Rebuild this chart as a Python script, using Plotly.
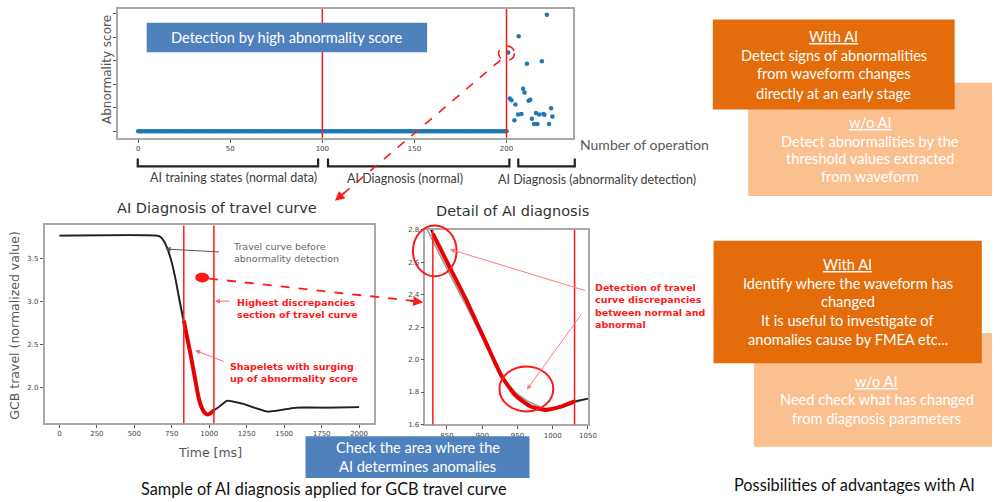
import plotly.graph_objects as go

W, H = 1001, 502
def px(x): return x / W
def py(y): return 1 - y / H

# ---------------- data ----------------
# top: abnormality score vs number of operation
normal_ops = list(range(0, 201))
normal_scores = [0.0] * len(normal_ops)
abn_ops = [200.9, 201.8, 202.7, 204.3, 204.8, 206.3, 206.6, 208.1, 209.0, 209.8,
           211.1, 212.0, 212.9, 213.8, 215.0, 216.0, 216.8, 217.7, 219.2, 220.0,
           220.6, 221.9, 223.1, 224.2, 224.9]
abn_scores = [3.35, 1.40, 1.32, 0.47, 1.14, 0.71, 4.05, 0.74, 1.81, 1.65,
              2.88, 1.30, 1.34, 0.53, 0.31, 0.78, 0.31, 0.71, 2.98, 0.74,
              0.70, 4.96, 0.31, 0.98, 0.63]
top_xticks = [0, 50, 100, 150, 200]
top_yticks = [0, 1, 2, 3, 4, 5]
phase_bounds = [100, 200]

# bottom: GCB travel curve
time_ms = [0, 650, 675, 700, 725, 750, 775, 800, 821, 830, 851, 877, 905, 928, 947,
           968, 989, 1013, 1031, 1050, 1080, 1120, 1160, 1234, 1300, 1390, 1450,
           1587, 1807, 2000]
travel_now = [3.76, 3.76, 3.745, 3.69, 3.59, 3.45, 3.26, 3.03, 2.85, 2.776, 2.593,
              2.37, 2.107, 1.894, 1.78, 1.712, 1.69, 1.712, 1.742, 1.76, 1.80, 1.85,
              1.84, 1.81, 1.77, 1.725, 1.735, 1.77, 1.77, 1.775]
travel_before = [3.76, 3.76, 3.745, 3.69, 3.58, 3.44, 3.24, 3.00, 2.81, 2.73, 2.55,
                 2.335, 2.09, 1.895, 1.80, 1.735, 1.70, 1.705, 1.735, 1.76, 1.80,
                 1.85, 1.84, 1.81, 1.77, 1.725, 1.735, 1.77, 1.77, 1.775]
shapelet_start, shapelet_end = 830, 1031
main_xticks = [0, 250, 500, 750, 1000, 1250, 1500, 1750, 2000]
main_yticks = [2.0, 2.5, 3.0, 3.5]
detail_xticks = [850, 900, 950, 1000, 1050]
detail_yticks = [1.6, 1.8, 2.0, 2.2, 2.4, 2.6, 2.8]

shp_t = [t for t in time_ms if shapelet_start <= t <= shapelet_end]
shp_v = [v for t, v in zip(time_ms, travel_now) if shapelet_start <= t <= shapelet_end]

# ---------------- figure ----------------
BLUE_PT = '#1f77b4'
RED = '#ff1a1a'
fig = go.Figure()

fig.add_trace(go.Scatter(x=normal_ops, y=normal_scores, mode='markers',
                         marker=dict(size=4.5, color=BLUE_PT), xaxis='x', yaxis='y'))
fig.add_trace(go.Scatter(x=abn_ops, y=abn_scores, mode='markers',
                         marker=dict(size=4.5, color=BLUE_PT), xaxis='x', yaxis='y'))

for xa, ya in (('x2', 'y2'), ('x3', 'y3')):
    fig.add_trace(go.Scatter(x=time_ms, y=travel_before, mode='lines',
                             line=dict(color='#9a9a9a', width=1.6, shape='spline', smoothing=0.5),
                             xaxis=xa, yaxis=ya))
    fig.add_trace(go.Scatter(x=time_ms, y=travel_now, mode='lines',
                             line=dict(color='#202020', width=1.8, shape='spline', smoothing=0.5),
                             xaxis=xa, yaxis=ya))
    fig.add_trace(go.Scatter(x=shp_t, y=shp_v, mode='lines',
                             line=dict(color='#e80000', width=4, shape='spline', smoothing=0.5),
                             xaxis=xa, yaxis=ya))

frame = dict(showline=True, mirror=True, linecolor='#a8a8a8', linewidth=1.5,
             showgrid=False, zeroline=False, ticks='outside', ticklen=3,
             tickcolor='#555', tickfont=dict(size=7, color='#444', family='DejaVu Sans'))

fig.update_layout(
    width=W, height=H, margin=dict(l=0, r=0, t=0, b=0),
    paper_bgcolor='white', plot_bgcolor='white', showlegend=False, hovermode=False,
    font=dict(family='DejaVu Sans'),
    xaxis=dict(frame, domain=[px(119), px(578)], range=[-11, 236], tickvals=top_xticks, anchor='y'),
    yaxis=dict(frame, domain=[py(136), py(5)], range=[-0.28, 5.21], tickvals=top_yticks,
               showticklabels=False, anchor='x'),
    xaxis2=dict(frame, domain=[px(45), px(377)], range=[-99, 2097], tickvals=main_xticks, anchor='y2'),
    yaxis2=dict(frame, domain=[py(426), py(225)], range=[1.59, 3.878], tickvals=main_yticks,
                ticktext=['%.1f' % v for v in main_yticks], anchor='x2'),
    xaxis3=dict(frame, domain=[px(429.3), px(593.3)], range=[819.5, 1050], tickvals=detail_xticks, anchor='y3'),
    yaxis3=dict(frame, domain=[py(427.3), py(229.3)], range=[1.6, 2.8], tickvals=detail_yticks,
                ticktext=['%.1f' % v for v in detail_yticks], anchor='x3'),
)

shapes = []
ann = []

def text(x, y, s, size=14, color='white', family='Lato', xanchor='center', align='center'):
    ann.append(dict(x=px(x), y=py(y), xref='paper', yref='paper', text=s, showarrow=False,
                    xanchor=xanchor, yanchor='middle', align=align,
                    font=dict(size=size, color=color, family=family)))

def arrow(tipx, tipy, axo, ayo, color, width=1, head=2, size=1):
    ann.append(dict(x=px(tipx), y=py(tipy), xref='paper', yref='paper', text='', showarrow=True,
                    ax=axo, ay=ayo, arrowcolor=color, arrowwidth=width, arrowhead=head,
                    arrowsize=size, standoff=0))

def rect(x0, y0, x1, y1, color):
    shapes.append(dict(type='rect', xref='paper', yref='paper', x0=px(x0), x1=px(x1),
                       y0=py(y1), y1=py(y0), fillcolor=color, line=dict(width=0)))

# top chart
for b in phase_bounds:
    shapes.append(dict(type='line', xref='x', yref='y domain', x0=b, x1=b, y0=0, y1=1,
                       line=dict(color=RED, width=1.5)))
shapes.append(dict(type='circle', xref='x', yref='y', x0=195.7, x1=204.3, y0=3.01, y1=3.63,
                   line=dict(color=RED, width=1.6, dash='dash')))
rect(148, 19, 431, 49, '#4F81BD')
text(289.5, 34, 'Detection by high abnormality score', size=14.6)
text(108, 67, 'Abnormality score', size=12, color='#555', family='DejaVu Sans')
ann[-1]['textangle'] = -90
text(583, 143, 'Number of operation', size=14, color='#595959', xanchor='left')

for x0, x1 in ((139, 321), (331, 514), (523, 580)):
    shapes.append(dict(type='path', xref='paper', yref='paper',
                       path='M %f,%f L %f,%f L %f,%f L %f,%f' % (px(x0), py(157), px(x0), py(165),
                                                                   px(x1), py(165), px(x1), py(157)),
                       line=dict(color='#222', width=2.2)))
text(235.5, 176, 'AI training states (normal data)', size=12.5, color='#404040')
text(409, 177, 'AI Diagnosis (normal)', size=12.5, color='#404040')
text(602.5, 178, 'AI Diagnosis (abnormality detection)', size=12.5, color='#404040')

# dashed arrow top -> bottom
shapes.append(dict(type='line', xref='paper', yref='paper', x0=px(505), y0=py(57), x1=px(345), y1=py(194),
                   line=dict(color=RED, width=1.6, dash='dash')))
arrow(338, 200, 11, -9.5, RED, width=1.6, head=2, size=1.2)

# main chart
for b in (shapelet_start, shapelet_end):
    for xr, yr in (('x2', 'y2 domain'), ('x3', 'y3 domain')):
        shapes.append(dict(type='line', xref=xr, yref=yr, x0=b, x1=b, y0=0, y1=1,
                           line=dict(color=RED, width=1.5)))
text(219, 207.5, 'AI Diagnosis of travel curve', size=14.5, color='#333', family='DejaVu Sans')
text(211.5, 455.5, 'Time [ms]', size=12.5, color='#555', family='DejaVu Sans')
text(15, 326, 'GCB travel (normalized value)', size=12.5, color='#555', family='DejaVu Sans')
ann[-1]['textangle'] = -90

text(233, 253, 'Travel curve before<br>abnormality detection', size=9.5, color='#666',
     family='DejaVu Sans', xanchor='left', align='left')
arrow(167, 249, 55, 3, '#555', width=1, head=2, size=1)
text(237, 309, '<b>Highest discrepancies<br>section of travel curve</b>', size=9.5, color=RED,
     family='DejaVu Sans', xanchor='left', align='left')
arrow(217, 302, 16, 0, '#ff6a6a', width=1, head=2, size=1)
text(230, 374.5, '<b>Shapelets with surging<br>up of abnormality score</b>', size=9.5, color=RED,
     family='DejaVu Sans', xanchor='left', align='left')
arrow(197, 352, 30, 11.6, '#ff6a6a', width=1, head=2, size=1)

# red dot + dashed arrow to detail
shapes.append(dict(type='circle', xref='paper', yref='paper', x0=px(197), x1=px(211), y0=py(283), y1=py(273),
                   fillcolor=RED, line=dict(width=0)))
shapes.append(dict(type='line', xref='paper', yref='paper', x0=px(211), y0=py(279), x1=px(419), y1=py(302),
                   line=dict(color=RED, width=1.8, dash='dash')))
arrow(427, 303, -14, -1.6, RED, width=1.8, head=2, size=1.1)

# detail chart
text(517, 210.7, 'Detail of AI diagnosis', size=14.5, color='#333', family='DejaVu Sans')
shapes.append(dict(type='circle', xref='paper', yref='paper', x0=px(416.7), x1=px(460.7),
                   y0=py(276.7), y1=py(225), line=dict(color=RED, width=2)))
shapes.append(dict(type='circle', xref='paper', yref='paper', x0=px(504), x1=px(558.3),
                   y0=py(414), y1=py(368.3), line=dict(color=RED, width=2)))
text(598, 307, '<b>Detection of travel<br>curve discrepancies<br>between normal and<br>abnormal</b>',
     size=9.5, color=RED, family='DejaVu Sans', xanchor='left', align='left')
arrow(454, 249.3, 136.7, 41.7, '#ff7a7a', width=1, head=2, size=1)
arrow(531.7, 391.7, 55.6, -76.7, '#ff7a7a', width=1, head=2, size=1)

# bottom blue box and captions
rect(308.3, 439.3, 534.3, 481.7, '#4F81BD')
text(421.3, 451, 'Check the area where the', size=14.6)
text(421.3, 470, 'AI determines anomalies', size=14.6)
text(327, 492, 'Sample of AI diagnosis applied for GCB travel curve', size=16.3, color='#111')
text(862, 488.5, 'Possibilities of advantages with AI', size=16.3, color='#111')

# right-hand boxes
LIGHT, DARK = '#FAC090', '#E46C0A'
rect(755, 80, 1001, 195, LIGHT)
rect(719.3, 15.7, 963.3, 107.3, DARK)
rect(760.7, 334.3, 1001, 450, LIGHT)
rect(720, 240.7, 990.7, 365, DARK)

BOX_FS = 14.6
for y, s in ((33.3, '<u>With AI</u>'), (52.3, 'Detect signs of abnormalities'),
             (71, 'from waveform changes'), (90.7, 'directly at an early stage')):
    text(841.5, y, s, size=BOX_FS)
for y, s in ((120.7, '<u>w/o AI</u>'), (139.3, 'Detect abnormalities by the'),
             (156.7, 'threshold values extracted'), (175.7, 'from waveform')):
    text(878.3, y, s, size=BOX_FS)
for y, s in ((265, '<u>With AI</u>'), (284, 'Identify where the waveform has'), (302.7, 'changed'),
             (321.7, 'It is useful to investigate of'), (340.7, 'anomalies cause by FMEA etc...')):
    text(855.5, y, s, size=BOX_FS)
for y, s in ((384, '<u>w/o AI</u>'), (402.3, 'Need check what has changed'),
             (421.7, 'from diagnosis parameters')):
    text(884.5, y, s, size=BOX_FS)

fig.update_layout(shapes=shapes, annotations=ann)
fig.write_html('out.html', config={'displayModeBar': False},
               post_script="document.body.style.margin='0px';document.documentElement.style.overflow='hidden';")
